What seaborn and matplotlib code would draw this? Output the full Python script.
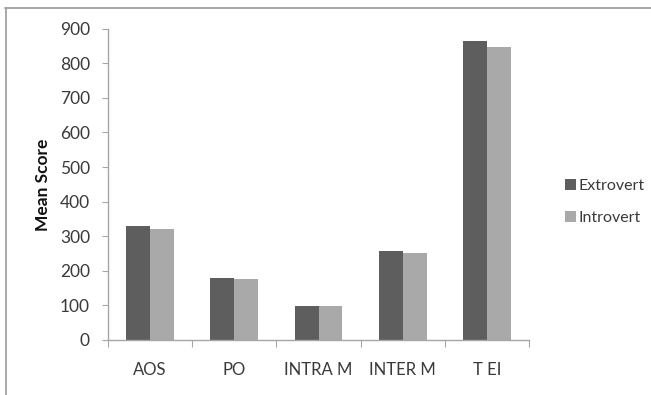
import matplotlib
matplotlib.use("Agg")
import matplotlib.pyplot as plt
from matplotlib.lines import Line2D
from matplotlib.patches import Patch
import seaborn as sns
import pandas as pd

categories = ["AOS", "PO", "INTRA M", "INTER M", "T EI"]
extrovert = [330, 178, 99, 257, 864]
introvert = [320, 175, 97, 251, 846]
groups = ["Extrovert", "Introvert"]
yticks = [0, 100, 200, 300, 400, 500, 600, 700, 800, 900]

df = pd.DataFrame({
    "Category": categories * 2,
    "Score": extrovert + introvert,
    "Group": [groups[0]] * len(categories) + [groups[1]] * len(categories),
})

sns.set_style("white")
plt.rcParams["font.family"] = ["Lato", "DejaVu Sans"]

text_col = "#3a3a3a"
axis_col = "#a6a6a6"
colors = {"Extrovert": "#5e5e5e", "Introvert": "#a9a9a9"}
fs = 12

fig = plt.figure(figsize=(6.51, 3.95), dpi=100)
ax = fig.add_axes([108 / 651, 1 - 340 / 395, (529 - 108) / 651, (340 - 28.7) / 395])

sns.barplot(data=df, x="Category", y="Score", hue="Group", order=categories,
            hue_order=groups, palette=colors, width=0.57, saturation=1,
            linewidth=0, ax=ax, legend=False)

ax.set_xlim(-0.5, len(categories) - 0.5)
ax.set_ylim(0, 900)
ax.set_yticks(yticks)
ax.set_yticklabels([str(v) for v in yticks])
ax.set_xlabel("")
ax.set_ylabel("Mean Score", fontsize=12.5, fontweight="bold", color="#111111", labelpad=6)

for side in ["top", "right"]:
    ax.spines[side].set_visible(False)
for side in ["left", "bottom"]:
    ax.spines[side].set_color(axis_col)
    ax.spines[side].set_linewidth(1.0)

ax.tick_params(axis="y", which="major", length=4, width=0.8, color=axis_col,
               labelsize=12.5, labelcolor=text_col, pad=9, left=True)
ax.tick_params(axis="x", which="major", length=0, labelsize=fs,
               labelcolor=text_col, pad=16)
ax.set_xticks([i - 0.5 for i in range(len(categories) + 1)], minor=True)
ax.tick_params(axis="x", which="minor", length=5, width=0.8, color=axis_col,
               direction="out", bottom=True)

handles = [Patch(facecolor=colors[g], edgecolor="none") for g in groups]
fig.legend(handles, groups, loc="center left", bbox_to_anchor=(551 / 651, 1 - 202 / 395),
           frameon=False, fontsize=11.5, handlelength=0.65, handleheight=0.65,
           handletextpad=0.2, labelspacing=1.1, labelcolor=text_col)

# outer frame lines along the top and left edges
fig.add_artist(Line2D([5 / 651, 1], [1 - 7.5 / 395, 1 - 7.5 / 395],
                      transform=fig.transFigure, color="#9a9a9a", linewidth=1.2))
fig.add_artist(Line2D([5.5 / 651, 5.5 / 651], [0, 1 - 7.5 / 395],
                      transform=fig.transFigure, color="#9a9a9a", linewidth=1.2))

fig.savefig("out.png", dpi=100, facecolor="white")
